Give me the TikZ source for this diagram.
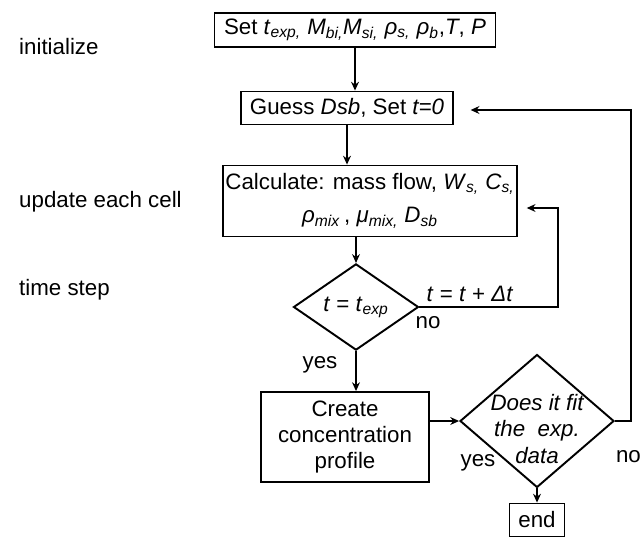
\documentclass[tikz,border=0pt]{standalone}
\usepackage{fontspec}
\setmainfont{Liberation Sans}
\usetikzlibrary{shapes.geometric,arrows.meta}
\newcommand{\iv}[1]{\textit{#1}}
\newcommand{\sub}[1]{\textsubscript{\textit{#1}}}

\begin{document}
\begin{tikzpicture}[x=0.02cm,y=-0.02cm]
\tikzstyle{note}=[font=\fontsize{12.7}{15}\selectfont]
\tikzstyle{box}=[rectangle, draw, line width=1.1pt, inner sep=0pt, align=center, note]
\tikzstyle{decision}=[diamond, draw, line width=1.1pt, inner sep=0pt, align=center, note]
\tikzstyle{link}=[line width=0.6pt, -{Stealth[length=5pt,width=4.5pt]}]

\useasboundingbox (0,0) rectangle (644,537);

\node[note, anchor=west] (initlab) at (13,47) {initialize};
\node[note, anchor=west] (celllab) at (13,202) {update each cell};
\node[note, anchor=west] (steplab) at (13,290) {time step};

\node[box, minimum width=5.62cm, minimum height=0.68cm] (setup) at (355,30)
  {Set \iv{t}\sub{exp,} \iv{M}\sub{bi,}\iv{M}\sub{si,} \iv{ρ}\sub{s,} \iv{ρ}\sub{b},\iv{T}, \iv{P}};
\node[box, minimum width=4.24cm, minimum height=0.66cm] (guess) at (347,108)
  {Guess \iv{Dsb}, Set \iv{t=0}};
\node[box, minimum width=5.88cm, minimum height=1.42cm] (calc) at (370,201)
  {Calculate: mass flow, \iv{W}\sub{s,} \iv{C}\sub{s,}\\[4pt]
   \iv{ρ}\sub{mix}\,, \iv{μ}\sub{mix,} \iv{D}\sub{sb}};
\node[decision, minimum width=2.5cm, minimum height=1.62cm] (tcheck) at (356,307)
  {\iv{t} = \iv{t}\sub{exp}};
\node[box, minimum width=3.36cm, minimum height=1.8cm] (profile) at (345,437)
  {Create\\concentration\\profile};
\node[decision, minimum width=3.08cm, minimum height=2.66cm,
  label={[align=center, font=\fontsize{12.7}{15}\selectfont\itshape, yshift=-0.16cm]center:Does it fit\\the~~exp.\\data}] (fit) at (537,421) {};
\node[box, minimum width=1.1cm, minimum height=0.66cm] (end) at (537,520) {end};

\coordinate (back1) at (558,208);
\coordinate (back2) at (631,110);

\draw[link] (setup.south) -- (setup.south |- guess.north);
\draw[link] (guess.south) -- (guess.south |- calc.north);
\draw[link] (tcheck |- calc.south) -- (tcheck.north);
\draw[link] (tcheck.south) -- (tcheck.south |- profile.north);
\draw[link, shorten >=5pt] (tcheck.east) -| (back1) -- (back1 -| calc.east);
\draw[link] (profile.east |- fit.west) -- (fit.west);
\draw[link] (fit.south) -- (end.north);
\draw[link, shorten >=9.5pt] (fit.east) -| (back2) -- (back2 -| guess.east);

\node[note] (dtlab) at (470,294) {\iv{t} = \iv{t} + \iv{Δt}};
\node[note] (no1) at (428,323) {no};
\node[note] (yes1) at (320,365) {yes};
\node[note] (yes2) at (478,463) {yes};
\node[note, anchor=east, inner sep=1pt] (no2) at (643,457) {no};
\end{tikzpicture}
\end{document}
